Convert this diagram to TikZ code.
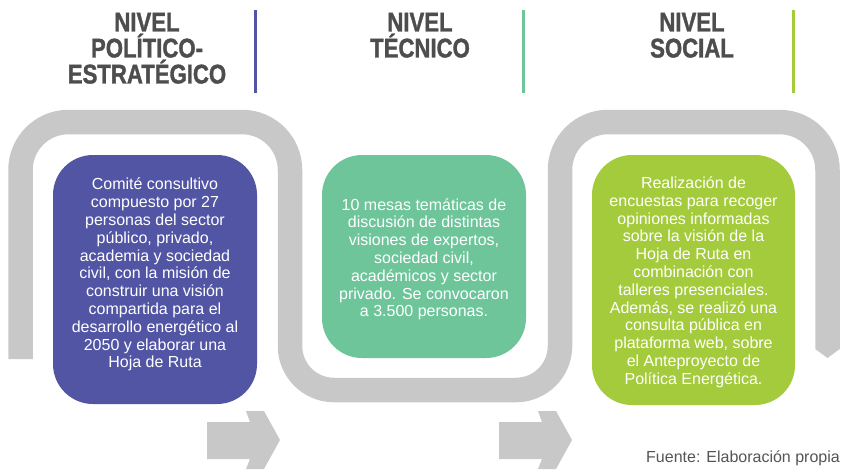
\documentclass[tikz,border=0pt]{standalone}
\usepackage{fontspec}
\setmainfont{Liberation Sans}
\newfontfamily\headfont[FakeStretch=0.82,FakeBold=1.3]{Liberation Sans Bold}
\definecolor{bandgray}{HTML}{C8C8C8}
\definecolor{cblue}{HTML}{5155A4}
\definecolor{cgreen}{HTML}{6EC59A}
\definecolor{clime}{HTML}{A4CB3C}
\definecolor{headgray}{HTML}{4D4D4D}
\definecolor{footgray}{HTML}{555555}
\begin{document}
\begin{tikzpicture}[x=1pt,y=1pt,
  band/.style={draw=bandgray,line width=24.5pt,line cap=butt,line join=miter},
  arrowshape/.style={fill=bandgray,draw=none},
  card/.style={rectangle,rounded corners=40pt,draw=none,inner sep=0pt,outer sep=0pt},
  cardtext/.style={text=white,align=center,inner sep=0pt,font=\fontsize{16}{17.8}\selectfont},
  header/.style={text=headgray,align=center,inner sep=0pt,font=\headfont\fontsize{27}{26}\selectfont},
  divider/.style={line width=3pt},
  foot/.style={text=footgray,inner sep=0pt,font=\fontsize{16}{18}\selectfont}]
\useasboundingbox (0,0) rectangle (842,-469);
\fill[white] (0,0) rectangle (842,-469);

% gray band
\draw[band] (20.5,-359) -- (20.5,-170) arc[start angle=180,end angle=90,radius=48]
  -- (242,-122) arc[start angle=90,end angle=0,radius=48]
  -- (290,-346) arc[start angle=180,end angle=270,radius=44]
  -- (516,-390) arc[start angle=270,end angle=360,radius=44]
  -- (560,-170) arc[start angle=180,end angle=90,radius=48]
  -- (779.5,-122) arc[start angle=90,end angle=0,radius=48]
  -- (827.5,-349.2);
\fill[bandgray] (815.25,-349) -- (839.75,-349) -- (827.5,-358) -- cycle;

% arrows
\foreach \s in {0,292}{
  \fill[arrowshape,xshift=\s] (207,-422) -- (250,-422) -- (246,-411) -- (264,-411)
    -- (280,-440) -- (264,-469) -- (246,-469) -- (250,-459) -- (207,-459) -- cycle;
}

% cards
\node[card,fill=cblue,minimum width=204pt,minimum height=249pt] (b1) at (155,-279.5) {};
\node[card,fill=cgreen,minimum width=204pt,minimum height=203pt] (b2) at (424,-256.5) {};
\node[card,fill=clime,minimum width=203pt,minimum height=250pt] (b3) at (693.5,-280) {};

\node[cardtext] (t1) at (155,-274.75) {Comité consultivo\\compuesto por 27\\personas del sector\\público, privado,\\academia y sociedad\\civil, con la misión de\\construir una visión\\compartida para el\\desarrollo energético al\\2050 y elaborar una\\Hoja de Ruta};
\node[cardtext] (t2) at (424,-259.25) {10 mesas temáticas de\\discusión de distintas\\visiones de expertos,\\sociedad civil,\\académicos y sector\\privado. Se convocaron\\a 3.500 personas.};
\node[cardtext] (t3) at (693.5,-282.25) {Realización de\\encuestas para recoger\\opiniones informadas\\sobre la visión de la\\Hoja de Ruta en\\combinación con\\talleres presenciales.\\Además, se realizó una\\consulta pública en\\plataforma web, sobre\\el Anteproyecto de\\Política Energética.};

% headers
\node[header] (h1) at (147,-48.3) {NIVEL\\POLÍTICO-\\ESTRATÉGICO};
\node[header] (h2) at (420,-35.3) {NIVEL\\TÉCNICO};
\node[header] (h3) at (692,-35.3) {NIVEL\\SOCIAL};

% dividers
\coordinate (d1a) at (255.5,-10); \coordinate (d1b) at (255.5,-93);
\coordinate (d2a) at (523,-10); \coordinate (d2b) at (523,-93);
\coordinate (d3a) at (793.5,-10); \coordinate (d3b) at (793.5,-93);
\draw[divider,draw=cblue] (d1a) -- (d1b);
\draw[divider,draw=cgreen] (d2a) -- (d2b);
\draw[divider,draw=clime] (d3a) -- (d3b);

% footer
\node[foot,anchor=base east] (src) at (840,-462) {Fuente: Elaboración propia};
\end{tikzpicture}
\end{document}
